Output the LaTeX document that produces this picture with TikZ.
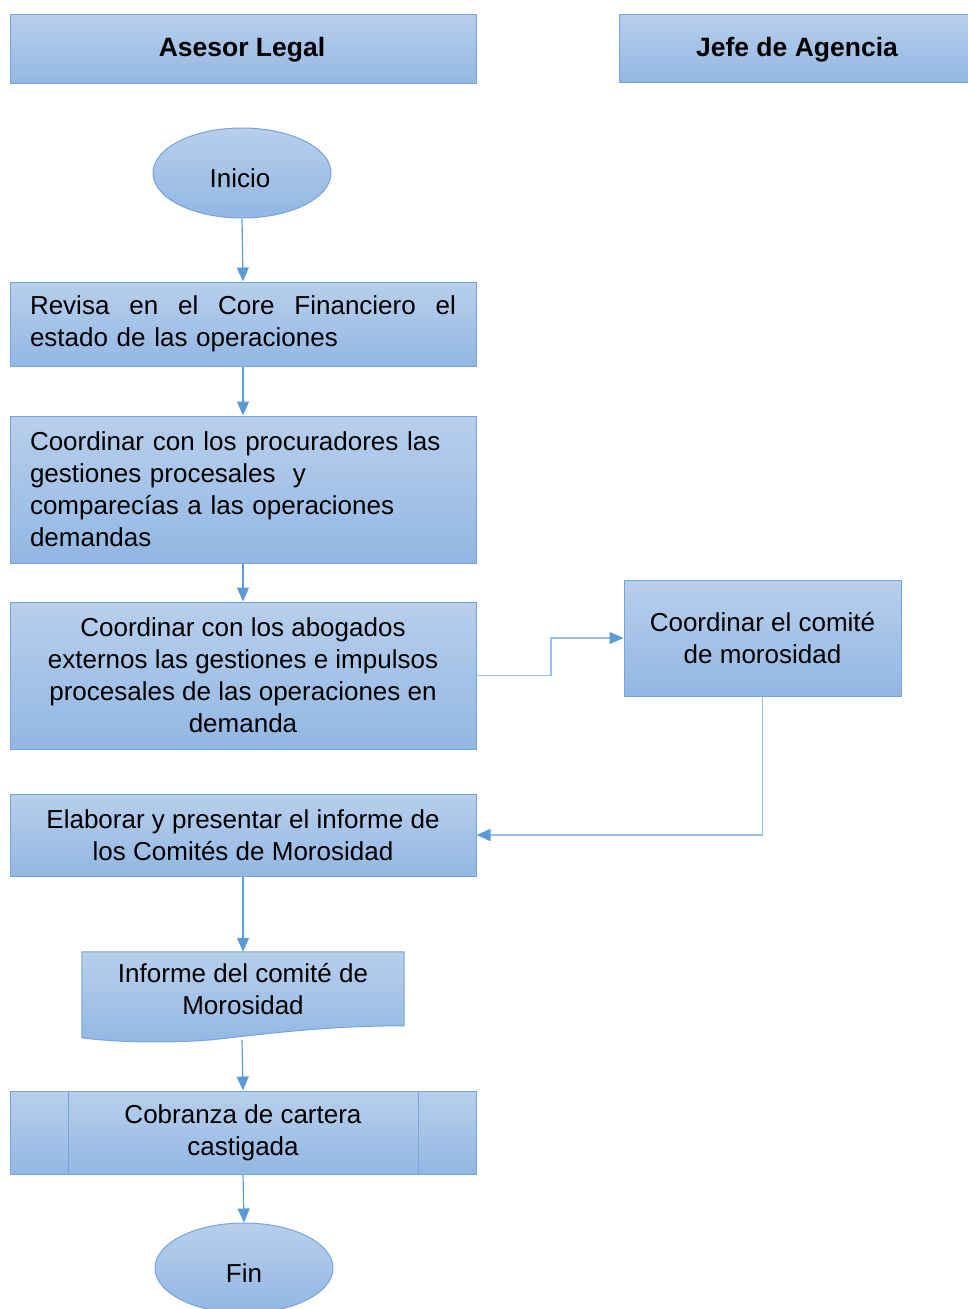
\documentclass[tikz,border=0pt]{standalone}
\usepackage{fontspec}
\setmainfont{Liberation Sans}
\usetikzlibrary{arrows.meta,shapes.geometric,calc}
\definecolor{boxtop}{RGB}{184,207,236}
\definecolor{boxbot}{RGB}{146,183,227}
\definecolor{boxline}{RGB}{118,164,220}
\definecolor{flow}{RGB}{91,155,213}
\definecolor{flowlight}{RGB}{150,190,230}
\tikzset{
  body/.style={font=\fontsize{26}{32}\selectfont, align=center},
  blk/.style={draw=boxline, line width=1pt, top color=boxtop, bottom color=boxbot,
    rectangle, inner sep=0pt, body},
  hdr/.style={draw=boxline, line width=1pt, top color=boxtop, bottom color=boxbot,
    rectangle, inner sep=0pt},
  hdrtext/.style={font=\fontsize{26.5}{30}\selectfont\bfseries, inner sep=0pt},
  oval/.style={blk, ellipse, minimum width=178pt, minimum height=90pt},
  flowarrow/.style={draw=flow, line width=1.2pt, -{Triangle[width=12pt,length=14pt]}},
  sidearrow/.style={draw=flowlight, line width=1.2pt, -{Triangle[width=12pt,length=14pt,color=flow]}}
}
\begin{document}
\begin{tikzpicture}[x=1pt,y=-1pt]
\useasboundingbox (0,0) rectangle (967,1309);

% lane headers
\node[hdr, minimum width=466pt, minimum height=69pt] (hdrA) at (243,48.5) {};
\node[hdrtext] (hdrAtext) at (242,50) {Asesor Legal};
\node[hdr, minimum width=357pt, minimum height=68pt] (hdrB) at (797.5,48) {};
\node[hdrtext] (hdrBtext) at (797,50) {Jefe de Agencia};

% start
\node[oval] (inicio) at (242,173) {};
\node[body, inner sep=0pt] (iniciotext) at (240,178) {Inicio};

% process steps
\node[blk, minimum width=466pt, minimum height=84pt, text width=426pt, align=left] (box1) at (243,324)
  {\hbox to 426pt{Revisa\hfill en\hfill el\hfill Core\hfill Financiero\hfill el}\\estado de las operaciones};
\node[blk, minimum width=466pt, minimum height=147pt, text width=426pt, align=left] (box2) at (243,489.5)
  {Coordinar con los procuradores las\\gestiones procesales ~y\\comparecías a las operaciones\\demandas};
\node[blk, minimum width=466pt, minimum height=147pt] (box3) at (243,675.5)
  {Coordinar con los abogados\\externos las gestiones e impulsos\\procesales de las operaciones en\\demanda};
\node[blk, minimum width=277pt, minimum height=116pt] (box4) at (762.5,638)
  {Coordinar el comité\\de morosidad};
\node[blk, minimum width=466pt, minimum height=82pt] (box5) at (243,835)
  {Elaborar y presentar el informe de\\los Comités de Morosidad};

% document symbol
\node[minimum width=322pt, minimum height=88pt, inner sep=0pt] (doc) at (243,996) {};
\path[draw=boxline, line width=1pt, top color=boxtop, bottom color=boxbot]
  (doc.north west) -- (doc.north east) -- ($(doc.north east)+(0,74)$)
  .. controls ($(doc.north east)+(-70,0)+(0,74)$) and ($(doc.north west)+(200,80)$) .. ($(doc.north west)+(130,88)$)
  .. controls ($(doc.north west)+(80,92)$) and ($(doc.north west)+(30,90)$) .. ($(doc.north west)+(0,86)$)
  -- cycle;
\node[body, inner sep=0pt] (doctext) at (243,989)
  {Informe del comité de\\Morosidad};
\coordinate (docbot) at (242,1040);

% predefined process
\node[blk, minimum width=466pt, minimum height=83pt] (box6) at (243,1132.5)
  {Cobranza de cartera\\castigada};
\draw[boxline, line width=1pt] ($(box6.north west)+(59,0)$) -- ($(box6.south west)+(59,0)$);
\draw[boxline, line width=1pt] ($(box6.north east)+(-58,0)$) -- ($(box6.south east)+(-58,0)$);

% end
\node[oval] (fin) at (244,1268) {};
\node[body, inner sep=0pt] (fintext) at (244,1273) {Fin};

% connectors
\coordinate (jog) at (551,0);
\draw[flowarrow] (inicio.south) -- (box1.north);
\draw[flowarrow] (box1.south) -- (box2.north);
\draw[flowarrow] (box2.south) -- (box3.north);
\draw[sidearrow] (box3.east) -- (jog |- box3.east) -- (jog |- box4.west) -- (box4.west);
\draw[sidearrow] (box4.south) |- (box5.east);
\draw[flowarrow] (box5.south) -- (doc.north);
\draw[flowarrow] (docbot) -- (box6.north);
\draw[flowarrow] (box6.south) -- (fin.north);
\end{tikzpicture}
\end{document}
